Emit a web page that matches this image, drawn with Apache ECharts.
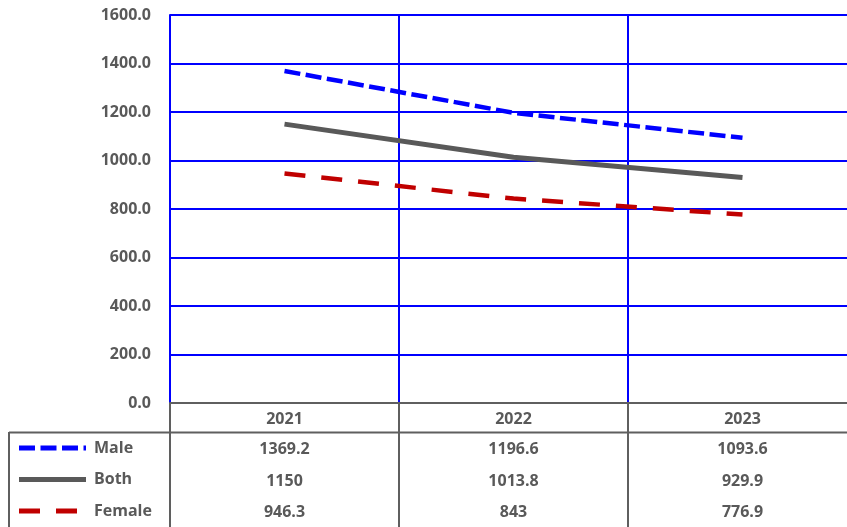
<!DOCTYPE html>
<html>
<head>
<meta charset="utf-8">
<script src="https://cdn.jsdelivr.net/npm/echarts@6/dist/echarts.min.js"></script>
<style>
  html, body { margin: 0; padding: 0; background: #fff; }
  #chart { width: 847px; height: 527px; }
</style>
</head>
<body>
<div id="chart"></div>
<script>
// Rates by year, shown as lines with a data table underneath
const years = ['2021', '2022', '2023'];
const male = [1369.2, 1196.6, 1093.6];
const both = [1150, 1013.8, 929.9];
const female = [946.3, 843, 776.9];
const seriesNames = ['Male', 'Both', 'Female'];

const FONT = '"Open Sans", "Liberation Sans", sans-serif';
const TEXT = '#595959';
const BLUE = '#0000ff';
const GRAY = '#595959';
const RED = '#c00000';
const TABLE_LINE = '#5f5f5f';
const FS = 16;

const styles = {
  Male: { color: BLUE, width: 4.5, dash: [16, 5.5] },
  Both: { color: GRAY, width: 5, dash: null },
  Female: { color: RED, width: 4.5, dash: [21, 16] }
};

const chart = echarts.init(document.getElementById('chart'));

// legend keys drawn inside the left column of the data table
const rowY = [448, 479.5, 511];
const legendGraphics = [];
seriesNames.forEach((name, i) => {
  const s = styles[name];
  legendGraphics.push({
    type: 'line', silent: true,
    shape: { x1: 19, y1: rowY[i], x2: 86, y2: rowY[i] },
    style: { stroke: s.color, lineWidth: 5, lineDash: s.dash || null }
  });
  legendGraphics.push({
    type: 'text', silent: true, x: 94, y: rowY[i],
    style: { text: name, fill: TEXT, font: 'bold ' + FS + 'px ' + FONT, verticalAlign: 'middle', align: 'left' }
  });
});

chart.setOption({
  animation: false,
  backgroundColor: '#fff',
  // the plot runs a little past the right edge of the canvas
  grid: { left: 170, width: 687, top: 15, bottom: 124, containLabel: false, outerBoundsMode: 'none' },
  xAxis: {
    type: 'category',
    data: years,
    boundaryGap: true,
    axisLine: { show: true, lineStyle: { color: TABLE_LINE, width: 2 } },
    axisTick: { show: true, length: 124, lineStyle: { color: TABLE_LINE, width: 2 } },
    splitLine: { show: true, lineStyle: { color: BLUE, width: 2 } },
    axisLabel: {
      margin: 1,
      interval: 0,
      formatter: function (value, idx) {
        return '{y|' + value + '}\n{v|' + male[idx] + '}\n{v|' + both[idx] + '}\n{v|' + female[idx] + '}';
      },
      rich: {
        y: { color: TEXT, fontFamily: FONT, fontWeight: 'bold', fontSize: FS, lineHeight: 30 },
        v: { color: TEXT, fontFamily: FONT, fontWeight: 'bold', fontSize: FS, lineHeight: 31.3 }
      }
    }
  },
  yAxis: {
    type: 'value',
    min: 0,
    max: 1600,
    interval: 200,
    axisLine: { show: true, lineStyle: { color: BLUE, width: 2 } },
    axisTick: { show: false },
    splitLine: { show: true, lineStyle: { color: BLUE, width: 2 } },
    axisLabel: {
      margin: 19,
      color: TEXT,
      fontFamily: FONT,
      fontWeight: 'bold',
      fontSize: FS,
      formatter: v => v.toFixed(1)
    }
  },
  series: [
    {
      name: 'Male', type: 'line', data: male, symbol: 'none',
      lineStyle: { color: BLUE, width: 4.5, type: styles.Male.dash, cap: 'butt' },
      z: 5
    },
    {
      name: 'Both', type: 'line', data: both, symbol: 'none',
      lineStyle: { color: GRAY, width: 5, type: 'solid' },
      z: 4
    },
    {
      name: 'Female', type: 'line', data: female, symbol: 'none',
      lineStyle: { color: RED, width: 4.5, type: styles.Female.dash, cap: 'butt' },
      z: 3
    }
  ],
  graphic: [
    // data table: rule under the year header and left border of the key column
    { type: 'line', silent: true, shape: { x1: 9, y1: 432.5, x2: 847, y2: 432.5 }, style: { stroke: TABLE_LINE, lineWidth: 2 } },
    { type: 'line', silent: true, shape: { x1: 9, y1: 432, x2: 9, y2: 527 }, style: { stroke: TABLE_LINE, lineWidth: 2 } }
  ].concat(legendGraphics)
});
</script>
</body>
</html>
